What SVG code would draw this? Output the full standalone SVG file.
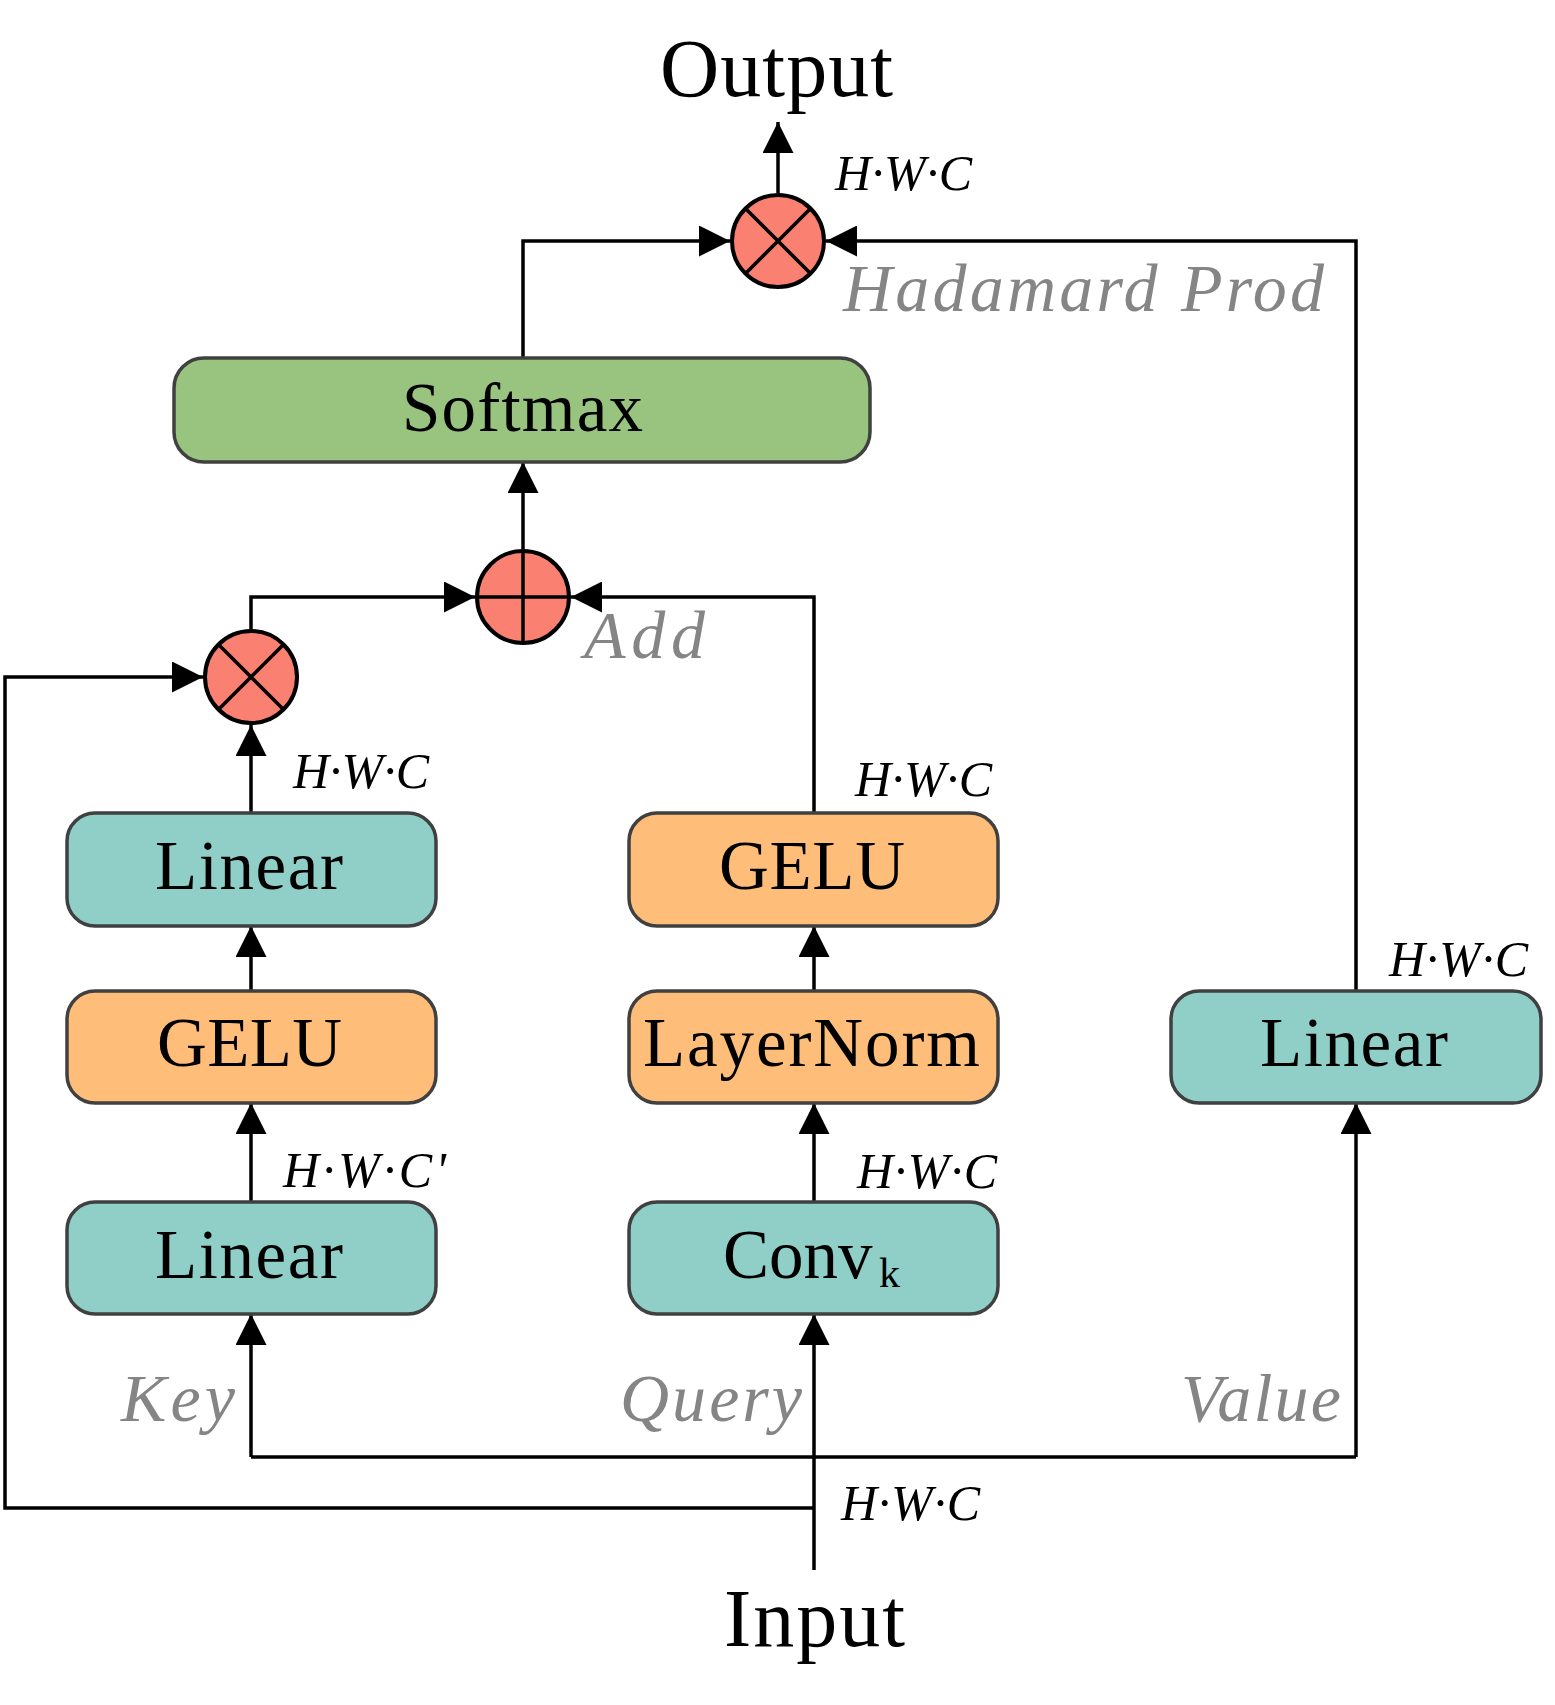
<svg xmlns="http://www.w3.org/2000/svg" width="1555" height="1705" viewBox="0 0 1555 1705">
<defs>
<style>
.box{stroke:#404040;stroke-width:3.5}
.teal{fill:#8FCFC8}
.orange{fill:#FEBE7A}
.green{fill:#98C47F}
.op{fill:#FA8072;stroke:#000;stroke-width:4}
.opl{stroke:#000;stroke-width:3.5;fill:none}
.conn{fill:none;stroke:#000;stroke-width:3.5;stroke-linejoin:miter}
.lbl{font-family:"Liberation Serif","Times New Roman",serif;font-size:69px;fill:#000}
.big{font-family:"Liberation Serif","Times New Roman",serif;font-size:82px;fill:#000}
.gray{font-family:"Liberation Serif","Times New Roman",serif;font-style:italic;font-size:68px;fill:#858585}
.dim{font-family:"Liberation Serif","Times New Roman",serif;font-style:italic;font-size:50px;fill:#000}
</style>
<marker id="arr" viewBox="0 0 31 31" refX="31" refY="15.5" markerWidth="31" markerHeight="31" markerUnits="userSpaceOnUse" orient="auto">
<path d="M0,0 L31,15.5 L0,31 Z" fill="#000"/>
</marker>
</defs>
<rect width="1555" height="1705" fill="#fff"/>

<g id="connectors">
<path class="conn" d="M814,1570 V1314" marker-end="url(#arr)"/>
<path class="conn" d="M251,1457 H1356"/>
<path class="conn" d="M251,1457 V1314" marker-end="url(#arr)"/>
<path class="conn" d="M1356,1457 V1103" marker-end="url(#arr)"/>
<path class="conn" d="M814,1508 H5 V677 H203" marker-end="url(#arr)"/>
<path class="conn" d="M251,1202 V1103" marker-end="url(#arr)"/>
<path class="conn" d="M251,991 V926" marker-end="url(#arr)"/>
<path class="conn" d="M251,813 V725" marker-end="url(#arr)"/>
<path class="conn" d="M251,629 V597 H475" marker-end="url(#arr)"/>
<path class="conn" d="M814,1202 V1103" marker-end="url(#arr)"/>
<path class="conn" d="M814,991 V926" marker-end="url(#arr)"/>
<path class="conn" d="M814,813 V597 H571" marker-end="url(#arr)"/>
<path class="conn" d="M523,549 V462" marker-end="url(#arr)"/>
<path class="conn" d="M523,358 V241 H730" marker-end="url(#arr)"/>
<path class="conn" d="M1356,991 V241 H826" marker-end="url(#arr)"/>
<path class="conn" d="M778,193 V122" marker-end="url(#arr)"/>
</g>

<g id="softmax">
<rect class="box green" x="174" y="358" width="696" height="104" rx="30"/>
<text class="lbl" x="402" y="431" textLength="241" lengthAdjust="spacing">Softmax</text>
</g>

<g id="linear-key-top">
<rect class="box teal" x="67" y="813" width="369" height="113" rx="28"/>
<text class="lbl" x="155" y="889" textLength="188" lengthAdjust="spacing">Linear</text>
</g>
<g id="gelu-key">
<rect class="box orange" x="67" y="991" width="369" height="112" rx="28"/>
<text class="lbl" x="157" y="1066" textLength="185" lengthAdjust="spacing">GELU</text>
</g>
<g id="linear-key-bottom">
<rect class="box teal" x="67" y="1202" width="369" height="112" rx="28"/>
<text class="lbl" x="155" y="1278" textLength="188" lengthAdjust="spacing">Linear</text>
</g>

<g id="gelu-query">
<rect class="box orange" x="629" y="813" width="369" height="113" rx="28"/>
<text class="lbl" x="719" y="889" textLength="186" lengthAdjust="spacing">GELU</text>
</g>
<g id="layernorm">
<rect class="box orange" x="629" y="991" width="369" height="112" rx="28"/>
<text class="lbl" x="643" y="1066" textLength="337" lengthAdjust="spacing">LayerNorm</text>
</g>
<g id="conv">
<rect class="box teal" x="629" y="1202" width="369" height="112" rx="28"/>
<text class="lbl" x="723" y="1278">Conv<tspan x="879" y="1287" font-size="42">k</tspan></text>
</g>

<g id="linear-value">
<rect class="box teal" x="1171" y="991" width="370" height="112" rx="28"/>
<text class="lbl" x="1260" y="1066" textLength="188" lengthAdjust="spacing">Linear</text>
</g>

<g id="hadamard">
<circle class="op" cx="778" cy="241" r="46"/>
<path class="opl" d="M745.5,208.5 L810.5,273.5 M810.5,208.5 L745.5,273.5"/>
</g>
<g id="multiply">
<circle class="op" cx="251" cy="677" r="46"/>
<path class="opl" d="M218.5,644.5 L283.5,709.5 M283.5,644.5 L218.5,709.5"/>
</g>
<g id="add">
<circle class="op" cx="523" cy="597" r="46"/>
<path class="opl" d="M523,551 V643 M477,597 H569"/>
</g>

<g id="labels">
<text class="big" x="660" y="96" textLength="233" lengthAdjust="spacing">Output</text>
<text class="big" x="724" y="1646" textLength="181" lengthAdjust="spacing">Input</text>
<text class="gray" x="843" y="311" textLength="481" lengthAdjust="spacing">Hadamard Prod</text>
<text class="gray" x="584" y="658" textLength="121" lengthAdjust="spacing">Add</text>
<text class="gray" x="121" y="1421" textLength="114" lengthAdjust="spacing">Key</text>
<text class="gray" x="620" y="1421" textLength="182" lengthAdjust="spacing">Query</text>
<text class="gray" x="1181" y="1421" textLength="160" lengthAdjust="spacing">Value</text>
<text class="dim" x="835" y="190" textLength="137" lengthAdjust="spacing">H·W·C</text>
<text class="dim" x="293" y="788" textLength="136" lengthAdjust="spacing">H·W·C</text>
<text class="dim" x="855" y="796" textLength="137" lengthAdjust="spacing">H·W·C</text>
<text class="dim" x="1389" y="976" textLength="139" lengthAdjust="spacing">H·W·C</text>
<text class="dim" x="283" y="1187" textLength="163" lengthAdjust="spacing">H·W·C'</text>
<text class="dim" x="857" y="1188" textLength="140" lengthAdjust="spacing">H·W·C</text>
<text class="dim" x="841" y="1520" textLength="139" lengthAdjust="spacing">H·W·C</text>
</g>
</svg>
